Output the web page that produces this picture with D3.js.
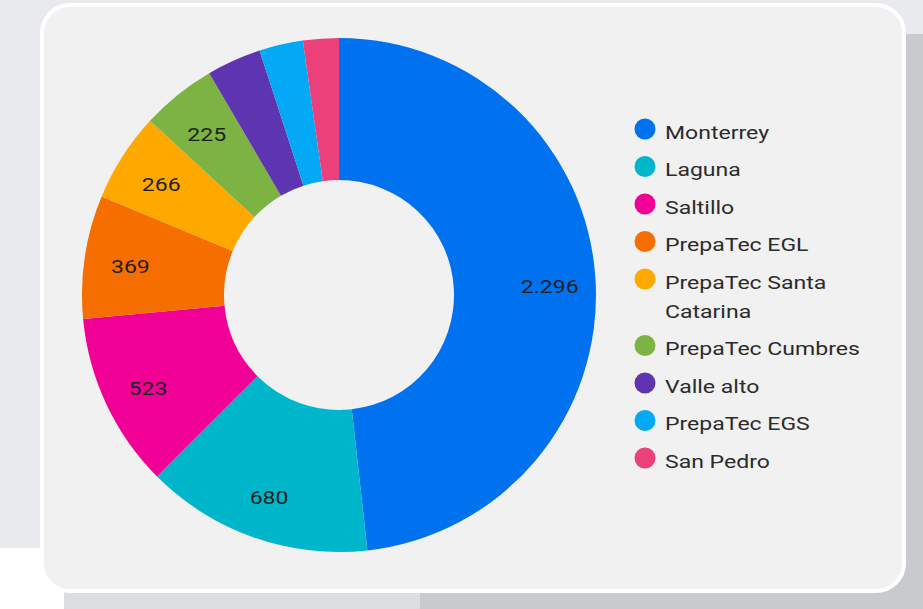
<!DOCTYPE html>
<html>
<head>
<meta charset="utf-8">
<script src="https://cdn.jsdelivr.net/npm/d3@7"></script>
<style>
  html, body { margin: 0; padding: 0; background: #e9eaed; }
  svg { display: block; font-family: Roboto, "Noto Sans", sans-serif; }
</style>
</head>
<body>
<div id="chart"></div>
<script>
// campus names, in slice order (clockwise from 12 o'clock)
const campuses = ["Monterrey", "Laguna", "Saltillo", "PrepaTec EGL", "PrepaTec Santa Catarina",
  "PrepaTec Cumbres", "Valle alto", "PrepaTec EGS", "San Pedro"]
// student counts (last three have no label)
const counts = [2296, 680, 523, 369, 266, 225, 163, 131, 107]
// Looker Studio default palette
const colours = ["#0072f0", "#00b6cb", "#f10096", "#f66d00", "#ffa800", "#7cb342", "#5e35b1", "#03a9f4", "#ec407a"]

const width = 923
const height = 609
// the screenshot text is horizontally stretched
const stretch = 1.28

const data = campuses.map((name, i) => ({ name: name, value: counts[i] }))

const svg = d3.select('#chart').append('svg')
  .attr('width', width).attr('height', height)
  .attr('viewBox', `0 0 ${width} ${height}`)

// page backdrop pieces around the card
svg.append('rect').attr('x', 0).attr('y', 548).attr('width', 80).attr('height', 61).attr('fill', '#ffffff')
svg.append('rect').attr('x', 64).attr('y', 34).attr('width', 900).attr('height', 620)
  .attr('rx', 14).attr('fill', '#c9cacd')
svg.append('rect').attr('x', 64).attr('y', 580).attr('width', 356).attr('height', 40)
  .attr('rx', 14).attr('fill', '#dcdde0')

// the card
svg.append('rect')
  .attr('x', 42).attr('y', 5).attr('width', 862).attr('height', 586)
  .attr('rx', 28).attr('fill', '#f1f1f1')
  .attr('stroke', '#ffffff').attr('stroke-width', 4)

const color = d3.scaleOrdinal().domain(campuses).range(colours)

const cx = 339, cy = 295
const outerR = 257, innerR = 115

const pie = d3.pie().value(d => d.value).sort(null)
const arcs = pie(data)
const total = d3.sum(counts)

const arc = d3.arc().innerRadius(innerR).outerRadius(outerR)
const labelArc = d3.arc().innerRadius(165).outerRadius(outerR)

const g = svg.append('g').attr('transform', `translate(${cx}, ${cy})`)

g.selectAll('path').data(arcs).enter()
  .append('path')
    .attr('d', arc)
    .attr('fill', d => color(d.data.name))

// value labels only on the bigger slices
g.selectAll('text.value').data(arcs.filter(d => d.value / total > 0.04)).enter()
  .append('text')
    .attr('class', 'value')
    .attr('transform', d => `translate(${labelArc.centroid(d)}) scale(${stretch}, 1)`)
    .attr('text-anchor', 'middle')
    .attr('dy', '0.55em')
    .style('font-size', '18px')
    .style('fill', '#1f1f1f')
    .text(d => d3.format(',')(d.value).replace(/,/g, '.'))

// legend
const legend = svg.append('g').attr('transform', 'translate(645, 129)')
const rowGap = 37.5, lineGap = 29, wrapWidth = 200
let yPos = 0

data.forEach(d => {
  const row = legend.append('g').attr('transform', `translate(0, ${yPos})`)
  row.append('circle').attr('r', 10.5).attr('fill', color(d.name))
  const text = row.append('text')
    .attr('transform', `translate(20, 0) scale(${stretch}, 1)`)
    .attr('dy', '0.55em')
    .style('font-size', '18px').style('fill', '#2b2b2b')

  // simple word wrap (width measured before the stretch)
  const words = d.name.split(' ')
  let line = []
  let tspan = text.append('tspan').attr('x', 0)
  let lines = 1
  words.forEach(w => {
    line.push(w)
    tspan.text(line.join(' '))
    if (tspan.node().getComputedTextLength() * stretch > wrapWidth && line.length > 1) {
      line.pop()
      tspan.text(line.join(' '))
      line = [w]
      tspan = text.append('tspan').attr('x', 0).attr('dy', lineGap).text(w)
      lines++
    }
  })
  yPos += rowGap + (lines - 1) * lineGap
})
</script>
</body>
</html>
